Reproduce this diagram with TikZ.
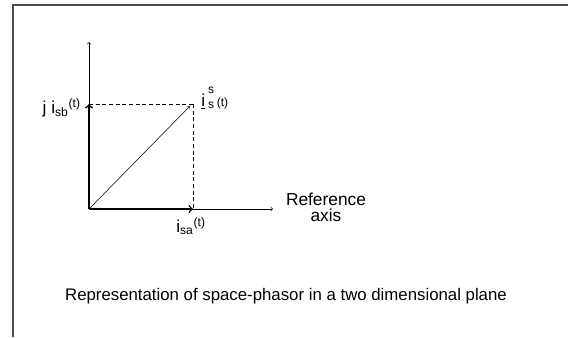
\documentclass[tikz,border=0pt]{standalone}
\usepackage{fontspec}
\setmainfont{Liberation Sans}
\usepackage{tikz}
\usetikzlibrary{arrows,positioning}

\begin{document}
\begin{tikzpicture}[
        x=0.75pt, y=-0.75pt,
        axis/.style={->, thin, black},
        comp/.style={->, line width=1.2pt, black},
        guide/.style={thin, black, dash pattern=on 3pt off 2pt},
        frame/.style={line width=0.8pt, black!70},
        label/.style={font=\fontsize{13}{12}\selectfont, inner sep=0pt, align=center},
        caption/.style={font=\fontsize{12.6}{14}\selectfont, inner sep=0pt}
    ]
        \useasboundingbox (0,0) rectangle (568,337);
        \draw[frame] (13,337) -- (13,5) -- (568,5);

        % axes and phasor
        \coordinate (O) at (89,209);
        \coordinate (Ytop) at (89,42);
        \coordinate (Xend) at (273,209);
        \coordinate (P) at (193,104);
        \coordinate (Pb) at (89,104);
        \coordinate (Pa) at (193,209);

        \draw[axis] (O) -- (Ytop);
        \draw[axis] (O) -- (Xend);
        \draw[comp] (O) -- (Pb);
        \draw[comp] (O) -- (Pa);
        \draw[guide] (Pb) -- (P);
        \draw[guide] (P) -- (Pa);
        \draw[axis] (O) -- (190,106);

        \node[label, anchor=base east] (jisb) at (81,113) {j i\textsubscript{sb}\textsuperscript{(t)}};
        \node[label, anchor=base west] (iss) at (201,106) {\underline{i}\,\rlap{\raisebox{1.35ex}{\small s}}\raisebox{-0.25ex}{\small s}\,{\small(t)}};
        \node[label, anchor=base west] (isa) at (176,232) {i\textsubscript{sa}\textsuperscript{(t)}};
        \node[label, anchor=north] (ref) at (326,193) {Reference\\axis};

        \node[caption] (cap) at (286,296) {Representation of space-phasor in a two dimensional plane};
    \end{tikzpicture}
\end{document}
